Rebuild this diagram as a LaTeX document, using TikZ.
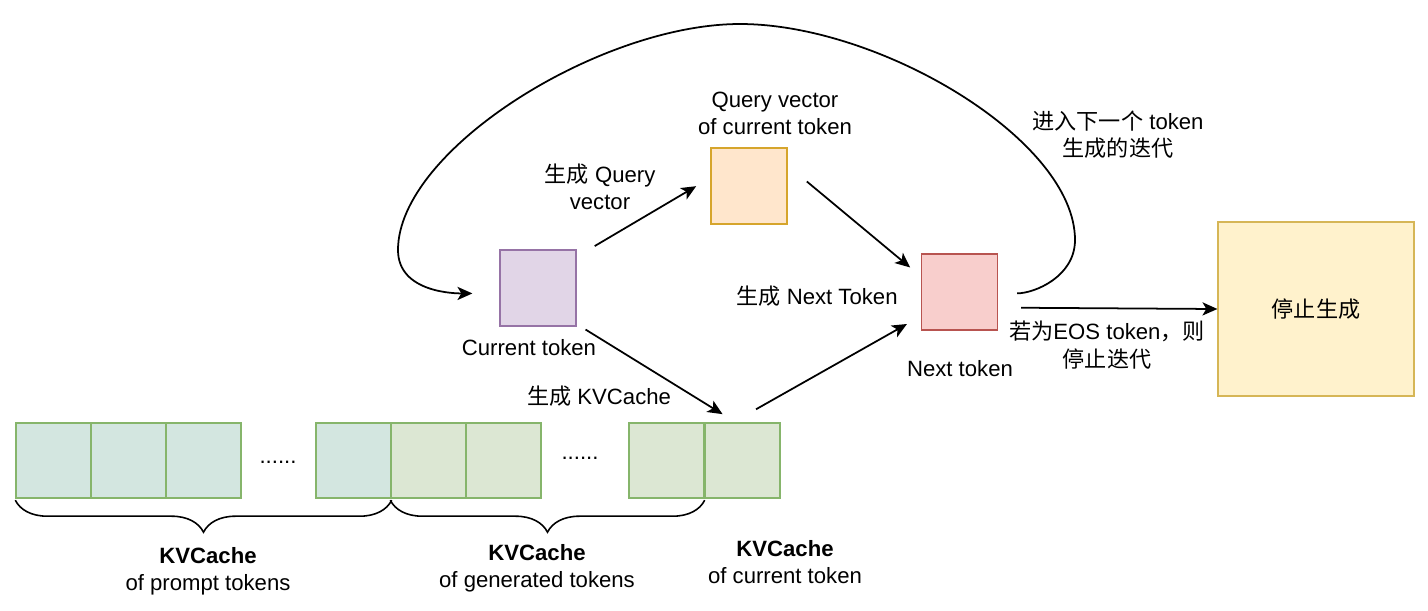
\documentclass[tikz,border=0pt]{standalone}
\usepackage{fontspec}
\setmainfont{Liberation Sans}
\newfontfamily\cjk{Noto Sans CJK SC}
\usepackage{tikz}
\usetikzlibrary{arrows.meta,decorations.pathreplacing}
\newcommand{\zh}[1]{{\cjk #1}}
\definecolor{promptfill}{HTML}{D3E6E0}
\definecolor{genfill}{HTML}{DCE7D3}
\definecolor{cellline}{HTML}{86B56B}
\definecolor{curfill}{HTML}{E1D5E7}
\definecolor{curline}{HTML}{9673A6}
\definecolor{qryfill}{HTML}{FFE6CC}
\definecolor{qryline}{HTML}{D6A52C}
\definecolor{nextfill}{HTML}{F8CECC}
\definecolor{nextline}{HTML}{B85450}
\definecolor{stopfill}{HTML}{FFF2CC}
\definecolor{stopline}{HTML}{D6B656}

\begin{document}
\begin{tikzpicture}[x=0.02cm, y=-0.02cm,
    every node/.style={font=\fontsize{12.6}{15.5}\selectfont, align=center},
    box/.style={draw, line width=0.7pt, minimum width=1.52cm, minimum height=1.52cm, inner sep=0pt},
    cell/.style={draw=cellline, line width=0.8pt, minimum width=1.5cm, minimum height=1.5cm, inner sep=0pt},
    flow/.style={line width=1pt, -{Stealth[length=8.5pt, width=7.5pt, inset=2.2pt]}},
    brace/.style={line width=0.9pt, decorate, decoration={brace, mirror, amplitude=0.64cm, raise=0.03cm}}]
    \useasboundingbox (0,0) rectangle (1428,610);

    \foreach \i/\x/\c in {1/53.5/promptfill, 2/128.5/promptfill, 3/203.5/promptfill, 4/353.5/promptfill,
                          5/428.5/genfill, 6/503.5/genfill, 7/666.5/genfill, 8/742.5/genfill}
        \node[cell, fill=\c] (kv\i) at (\x,460.5) {};
    \node (dots1) at (278,462) {......};
    \node (dots2) at (580,458) {......};

    \draw[brace] (kv1.south west) -- (kv4.south east);
    \draw[brace] (kv5.south west) -- (kv7.south east);
    \node (promptlbl) at (208,571) {\textbf{KVCache}\\of prompt tokens};
    \node (genlbl) at (537,568) {\textbf{KVCache}\\of generated tokens};
    \node (curkvlbl) at (785,562) {\textbf{KVCache}\\of current token};

    \node[box, fill=curfill, draw=curline] (cur) at (538,288) {};
    \node[box, fill=qryfill, draw=qryline] (qry) at (749,186) {};
    \node[box, fill=nextfill, draw=nextline] (next) at (959.5,292) {};
    \node[box, fill=stopfill, draw=stopline, minimum width=3.92cm, minimum height=3.48cm] (stop) at (1316,309) {\zh{停止生成}};

    \node (curlbl) at (529,348) {Current token};
    \node (qrylbl) at (775,113) {Query vector\\of current token};
    \node (nextlbl) at (960,369) {Next token};

    \draw[flow, shorten <=0.42cm, shorten >=0.33cm] (cur.39) -- (qry.168);
    \node (genq) at (600,187) {\zh{生成} Query\\vector};
    \draw[flow, shorten <=0.5cm, shorten >=0.28cm] (qry.28) -- (next.158);
    \draw[flow, shorten <=0.21cm, shorten >=0.31cm] (cur.-43) -- (kv8.100);
    \draw[flow, shorten <=0.53cm, shorten >=0.32cm] (kv8.104) -- (next.-148);
    \node (genkv) at (599,396) {\zh{生成} KVCache};
    \node (gennext) at (817,296) {\zh{生成} Next Token};

    \draw[flow, shorten <=0.46cm] (next.-22) -- (stop.west);
    \node (eoslbl) at (1107,345) {\zh{若为}EOS token\zh{，则}\\\zh{停止迭代}};

    \draw[flow, shorten <=0.38cm, shorten >=0.54cm] (next.-2) to[out=0, in=-90] (1075,240)
        .. controls (1075,140) and (880,24) .. (740,24)
        .. controls (600,24) and (398,150) .. (398,250) to[out=-90, in=180] (cur.188);
    \node (looplbl) at (1118,135) {\zh{进入下一个} token\\\zh{生成的迭代}};
\end{tikzpicture}
\end{document}
